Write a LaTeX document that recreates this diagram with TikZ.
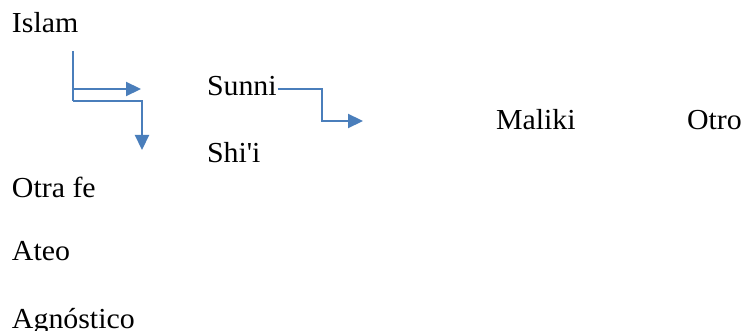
\documentclass[tikz,border=0pt]{standalone}
\usepackage{fontspec}
\setmainfont{Liberation Serif}[FakeStretch=1.03]
\usetikzlibrary{arrows.meta}
\definecolor{linkblue}{RGB}{74,126,187}
\tikzset{
  label/.style={anchor=base west, inner sep=0pt, outer sep=0pt,
                font=\fontsize{29}{31}\selectfont, text=black},
  link/.style={draw=linkblue, line width=2.2pt,
               -{Triangle[length=15pt,width=14pt]}},
  trunk/.style={draw=linkblue, line width=2.2pt}
}
\begin{document}
\begin{tikzpicture}[x=1pt,y=-1pt]
  \useasboundingbox (0,0) rectangle (744,331);

  % terms
  \node[label] (islam)  at (12,33)  {Islam};
  \node[label] (sunni)  at (207,96) {Sunni};
  \node[label] (shii)   at (207,163) {Shi\textquotesingle i};
  \node[label] (maliki) at (496,130) {Maliki};
  \node[label] (otro)   at (687,130) {Otro};
  \node[label] (otrafe) at (12,198) {Otra fe};
  \node[label] (ateo)   at (12,260) {Ateo};
  \node[label] (agn)    at (12,328) {Agnóstico};

  % connector end points
  \coordinate (top)   at (73,51);
  \coordinate (fork1) at (73,89);
  \coordinate (fork2) at (73,101);
  \coordinate (tip1)  at (141,89);
  \coordinate (tip2)  at (142,150);
  \coordinate (tip3)  at (363,121);

  % Islam branches
  \draw[trunk] (top) -- (fork2);
  \draw[link] (fork1) -- (tip1);
  \draw[link] (fork2) -| (tip2);

  % Sunni branch
  \draw[link] (sunni.base east) ++(1,-7) -| (322,121) -- (tip3);
\end{tikzpicture}
\end{document}
